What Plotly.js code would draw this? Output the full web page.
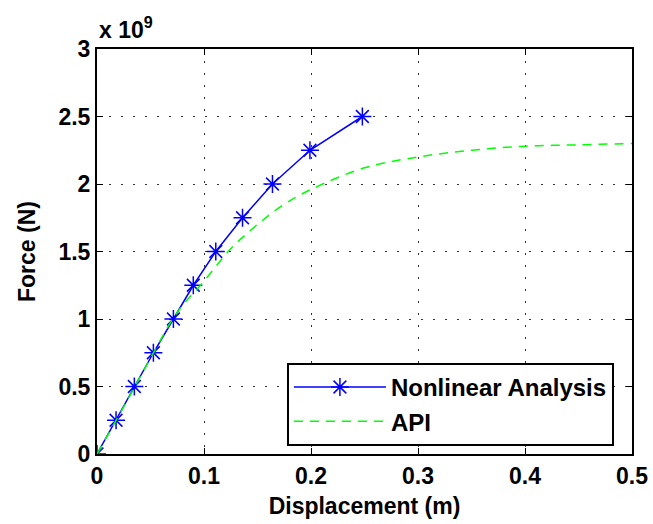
<!DOCTYPE html>
<html>
<head>
<meta charset="utf-8">
<script src="https://cdn.plot.ly/plotly-3.0.1.min.js"></script>
<style>html,body{margin:0;padding:0;background:#fff;}#chart{width:653px;height:524px;}</style>
</head>
<body>
<div id="chart"></div>
<script>
// Nonlinear Analysis (displacement m, force x1e9 N)
const nonlinearX = [0, 0.0178, 0.0349, 0.0527, 0.0714, 0.090, 0.111, 0.136, 0.164, 0.199, 0.248];
const nonlinearY = [0, 0.25, 0.5, 0.75, 1.0, 1.25, 1.5, 1.75, 2.0, 2.25, 2.5];
// API curve
const apiX = [0, 0.025, 0.05, 0.075, 0.1, 0.125, 0.15, 0.175, 0.2, 0.25, 0.3, 0.35, 0.4, 0.45, 0.5];
const apiY = [0, 0.35, 0.71, 1.05, 1.28, 1.52, 1.70, 1.85, 1.96, 2.12, 2.20, 2.25, 2.28, 2.29, 2.30];
const xTicks = [0, 0.1, 0.2, 0.3, 0.4, 0.5];
const xTickText = ["0", "0.1", "0.2", "0.3", "0.4", "0.5"];
const yTicks = [0, 0.5, 1, 1.5, 2, 2.5, 3];
const yTickText = ["0", "0.5", "1", "1.5", "2", "2.5", "3"];

const FONT = {family: "Liberation Sans, Arial, Helvetica, sans-serif", size: 23, color: "#000", weight: "bold"};
const LEGEND_FONT = Object.assign({}, FONT, {size: 24});

const traces = [
  {x: nonlinearX, y: nonlinearY, name: "Nonlinear Analysis", type: "scatter", mode: "lines+markers",
   line: {color: "#0000ff", width: 1.5},
   marker: {symbol: "asterisk-open", size: 15, color: "#0000ff", line: {color: "#0000ff", width: 1.5}}},
  {x: apiX, y: apiY, name: "API", type: "scatter", mode: "lines",
   line: {color: "#00ff00", width: 1.5, dash: "9px,7px", shape: "spline"}}
];

const axisCommon = {
  showline: true, linecolor: "#000", linewidth: 2, mirror: "ticks",
  ticks: "inside", ticklen: 6, tickwidth: 1, tickcolor: "#000",
  showgrid: true, gridcolor: "#333", griddash: "2px,10px", gridwidth: 1,
  zeroline: false, tickfont: FONT
};

const layout = {
  width: 653, height: 524,
  margin: {l: 97, r: 21, t: 49, b: 70, pad: 0},
  paper_bgcolor: "#fff", plot_bgcolor: "#fff",
  font: FONT,
  showlegend: true,
  legend: {x: 0.355, y: 0.225, xanchor: "left", yanchor: "top",
           bgcolor: "#fff", bordercolor: "#000", borderwidth: 2,
           font: LEGEND_FONT, tracegroupgap: 0, itemwidth: 92},
  xaxis: Object.assign({}, axisCommon, {
    range: [0, 0.5], tickvals: xTicks, ticktext: xTickText,
    title: {text: "Displacement (m)", font: FONT, standoff: 10}
  }),
  yaxis: Object.assign({}, axisCommon, {
    range: [0, 3], tickvals: yTicks, ticktext: yTickText,
    title: {text: "Force (N)", font: FONT, standoff: 16}
  }),
  annotations: [{
    text: "x 10<sup>9</sup>", xref: "paper", yref: "paper", x: 0, y: 1,
    xanchor: "left", yanchor: "bottom", yshift: 4, showarrow: false, font: FONT
  }]
};

Plotly.newPlot("chart", traces, layout, {displayModeBar: false, staticPlot: true});
</script>
</body>
</html>
